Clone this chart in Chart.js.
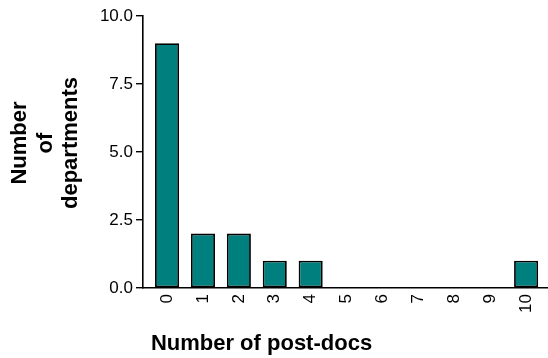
<!DOCTYPE html>
<html>
<head>
<meta charset="utf-8">
<script src="https://cdn.jsdelivr.net/npm/chart.js@4"></script>
<style>
  html, body { margin: 0; padding: 0; background: #ffffff; }
  #wrap { width: 548px; height: 358px; position: relative; }
</style>
</head>
<body>
<div id="wrap"><canvas id="chart"></canvas></div>
<script>
// Post-doc counts per department (x) and how many departments have each count (y)
const postDocs = [0, 1, 2, 3, 4, 5, 6, 7, 8, 9, 10];
const departments = [9, 2, 2, 1, 1, 0, 0, 0, 0, 0, 1];
const yTicks = [0, 2.5, 5, 7.5, 10];
const xTitle = 'Number of post-docs';
const yTitleLines = ['Number', 'of', 'departments'];

const FONT = '"Liberation Sans", Arial, Helvetica, sans-serif';

// Axis titles: the y title is three stacked, rotated lines
const axisTitles = {
  id: 'axisTitles',
  afterDraw(chart) {
    const ctx = chart.ctx;
    ctx.save();
    ctx.fillStyle = '#000';
    ctx.font = 'bold 22px ' + FONT;
    ctx.textAlign = 'center';
    ctx.textBaseline = 'alphabetic';
    ctx.fillText(xTitle, 261.5, 350);

    const cy = 143;
    const baselines = [26, 52, 77];
    yTitleLines.forEach((line, i) => {
      ctx.save();
      ctx.translate(baselines[i], cy);
      ctx.rotate(-Math.PI / 2);
      ctx.fillText(line, 0, 0);
      ctx.restore();
    });
    ctx.restore();
  }
};

new Chart(document.getElementById('chart'), {
  type: 'bar',
  data: {
    datasets: [{
      data: postDocs.map((x, i) => ({ x: x, y: departments[i] })),
      backgroundColor: '#007f7f',
      borderColor: '#000000',
      borderWidth: 1.8,
      borderSkipped: false,
      barPercentage: 0.67,
      categoryPercentage: 1
    }]
  },
  options: {
    responsive: true,
    maintainAspectRatio: false,
    animation: false,
    events: [],
    layout: { padding: { top: 16, right: 0, bottom: 0, left: 0 } },
    plugins: {
      legend: { display: false },
      tooltip: { enabled: false }
    },
    scales: {
      x: {
        type: 'linear',
        offset: false,
        min: -0.67,
        max: 10.61,
        afterFit(scale) {
          scale.height = 70;
          scale.paddingLeft = 0;
          scale.paddingRight = 0;
        },
        afterBuildTicks(scale) {
          scale.ticks = postDocs.map(v => ({ value: v }));
        },
        ticks: {
          includeBounds: false,
          autoSkip: false,
          maxRotation: 90,
          minRotation: 90,
          padding: 6,
          color: '#000',
          font: { family: FONT, size: 17 },
          callback: (v) => String(v)
        },
        grid: { display: false, drawTicks: false },
        border: { display: true, color: '#000', width: 1.6 }
      },
      y: {
        min: 0,
        max: 10,
        afterFit(scale) { scale.width = 143; },
        afterBuildTicks(scale) {
          scale.ticks = yTicks.map(v => ({ value: v }));
        },
        ticks: {
          padding: 3,
          color: '#000',
          font: { family: FONT, size: 17 },
          callback: (v) => Number(v).toFixed(1)
        },
        grid: {
          display: true,
          drawOnChartArea: false,
          drawTicks: true,
          tickLength: 7,
          color: '#000',
          lineWidth: 1.4
        },
        border: { display: true, color: '#000', width: 1.6 }
      }
    }
  },
  plugins: [axisTitles]
});
</script>
</body>
</html>
